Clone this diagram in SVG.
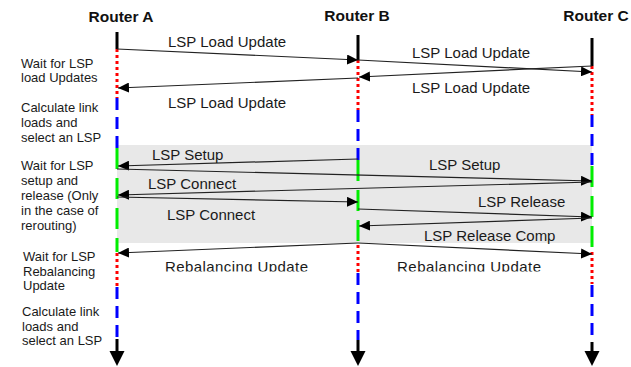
<svg xmlns="http://www.w3.org/2000/svg" width="631" height="367" viewBox="0 0 631 367">
<style>
.rt{font-family:"Liberation Sans",Arial,sans-serif;font-weight:bold;font-size:15.5px;fill:#111}
.lb{font-family:"Liberation Sans",Arial,sans-serif;font-size:15px;fill:#1a1a1a}
.nt{font-family:"Liberation Sans",Arial,sans-serif;font-size:13px;fill:#1a1a1a}
.blk{stroke:#000;stroke-width:3;fill:none}
.red{stroke:#f00;stroke-width:3;stroke-dasharray:3 3;fill:none}
.blu{stroke:#00f;stroke-width:3;stroke-dasharray:12 7;fill:none}
.grn{stroke:#0e0;stroke-width:3;stroke-dasharray:21 9;fill:none}
.msg{stroke:#222;stroke-width:1.2;fill:none;marker-end:url(#ah)}
</style>
<defs>
<marker id="ah" markerUnits="userSpaceOnUse" markerWidth="12" markerHeight="10" refX="11" refY="5" orient="auto">
<path d="M0,0 L11,5 L0,10 Z" fill="#000"/>
</marker>
<marker id="dn" markerUnits="userSpaceOnUse" markerWidth="16" markerHeight="16" refX="8" refY="14" orient="0">
<path d="M0,0 L16,0 L8,15 Z" fill="#000"/>
</marker>
<clipPath id="cut"><rect x="0" y="0" width="631" height="271.5"/></clipPath>
</defs>
<rect id="shade" x="117" y="145" width="475" height="98" fill="#e8e8e8"/>
<g id="routerA">
<text class="rt" x="121" y="22" text-anchor="middle">Router A</text>
<line class="blk" x1="117" y1="32" x2="117" y2="49"/>
<line class="red" x1="117" y1="49" x2="117" y2="98"/>
<line class="blu" x1="117" y1="98" x2="117" y2="148"/>
<line class="grn" x1="117" y1="148" x2="117" y2="252"/>
<line class="red" x1="117" y1="253" x2="117" y2="287"/>
<line class="blu" x1="117" y1="287" x2="117" y2="338"/>
<line class="blk" x1="117" y1="339" x2="117" y2="352"/>
<path d="M109.5,351 L124.5,351 L117,366 Z" fill="#000"/>
</g>
<g id="routerB">
<text class="rt" x="357" y="21" text-anchor="middle">Router  B</text>
<line class="blk" x1="358" y1="35" x2="358" y2="60"/>
<line class="red" x1="358" y1="60" x2="358" y2="110"/>
<line class="blu" x1="358" y1="110" x2="358" y2="160"/>
<line class="grn" x1="358" y1="160" x2="358" y2="243"/>
<line class="red" x1="358" y1="245" x2="358" y2="273"/>
<line class="blu" x1="358" y1="273" x2="358" y2="340"/>
<line class="blk" x1="358" y1="340" x2="358" y2="352"/>
<path d="M350.5,351 L365.5,351 L358,366 Z" fill="#000"/>
</g>
<g id="routerC">
<text class="rt" x="596" y="21" text-anchor="middle">Router C</text>
<line class="blk" x1="592" y1="38" x2="592" y2="66"/>
<line class="red" x1="592" y1="66" x2="592" y2="115"/>
<line class="blu" x1="592" y1="115" x2="592" y2="166"/>
<line class="grn" x1="592" y1="166" x2="592" y2="250"/>
<line class="red" x1="592" y1="252" x2="592" y2="284"/>
<line class="blu" x1="592" y1="285" x2="592" y2="340"/>
<line class="blk" x1="592" y1="342" x2="592" y2="352"/>
<path d="M584.5,351 L599.5,351 L592,366 Z" fill="#000"/>
</g>
<g id="note1">
<text class="nt" x="21" y="68">Wait for LSP</text>
<text class="nt" x="21" y="82">load Updates</text>
</g>
<g id="note2">
<text class="nt" x="21" y="112">Calculate link</text>
<text class="nt" x="21" y="127">loads and</text>
<text class="nt" x="21" y="142">select an LSP</text>
</g>
<g id="note3">
<text class="nt" x="21" y="170">Wait for LSP</text>
<text class="nt" x="21" y="185">setup and</text>
<text class="nt" x="21" y="200">release (Only</text>
<text class="nt" x="21" y="215">in the case of</text>
<text class="nt" x="21" y="230">rerouting)</text>
</g>
<g id="note4">
<text class="nt" x="23" y="261">Wait for LSP</text>
<text class="nt" x="23" y="276">Rebalancing</text>
<text class="nt" x="23" y="290">Update</text>
</g>
<g id="note5">
<text class="nt" x="22" y="316">Calculate link</text>
<text class="nt" x="22" y="331">loads and</text>
<text class="nt" x="22" y="345">select an LSP</text>
</g>
<g id="connectors">
<line class="msg" x1="117" y1="49" x2="358" y2="60"/>
<line class="msg" x1="358" y1="60" x2="592" y2="72"/>
<line class="msg" x1="592" y1="66" x2="359" y2="77"/>
<line class="msg" x1="358" y1="78" x2="118" y2="88"/>
<line class="msg" x1="358" y1="159" x2="118" y2="166"/>
<line class="msg" x1="117" y1="169" x2="592" y2="181"/>
<line class="msg" x1="592" y1="182" x2="118" y2="195"/>
<line class="msg" x1="117" y1="197" x2="358" y2="202"/>
<line class="msg" x1="358" y1="209" x2="592" y2="217"/>
<line class="msg" x1="592" y1="218" x2="359" y2="226"/>
<line class="msg" x1="358" y1="243" x2="118" y2="253"/>
<line class="msg" x1="358" y1="243" x2="592" y2="254"/>
</g>
<g id="labels">
<text class="lb" x="168" y="47">LSP Load Update</text>
<text class="lb" x="412" y="58">LSP Load Update</text>
<text class="lb" x="412" y="93">LSP Load Update</text>
<text class="lb" x="168" y="108">LSP Load Update</text>
<text class="lb" x="152" y="160">LSP Setup</text>
<text class="lb" x="429" y="170">LSP Setup</text>
<text class="lb" x="148" y="189">LSP Connect</text>
<text class="lb" x="167" y="220">LSP Connect</text>
<text class="lb" x="478" y="207">LSP Release</text>
<text class="lb" x="424" y="241">LSP Release Comp</text>
<g clip-path="url(#cut)">
<text class="lb" x="165" y="272" textLength="143">Rebalancing Update</text>
<text class="lb" x="397" y="272" textLength="144">Rebalancing Update</text>
</g>
</g>
</svg>
